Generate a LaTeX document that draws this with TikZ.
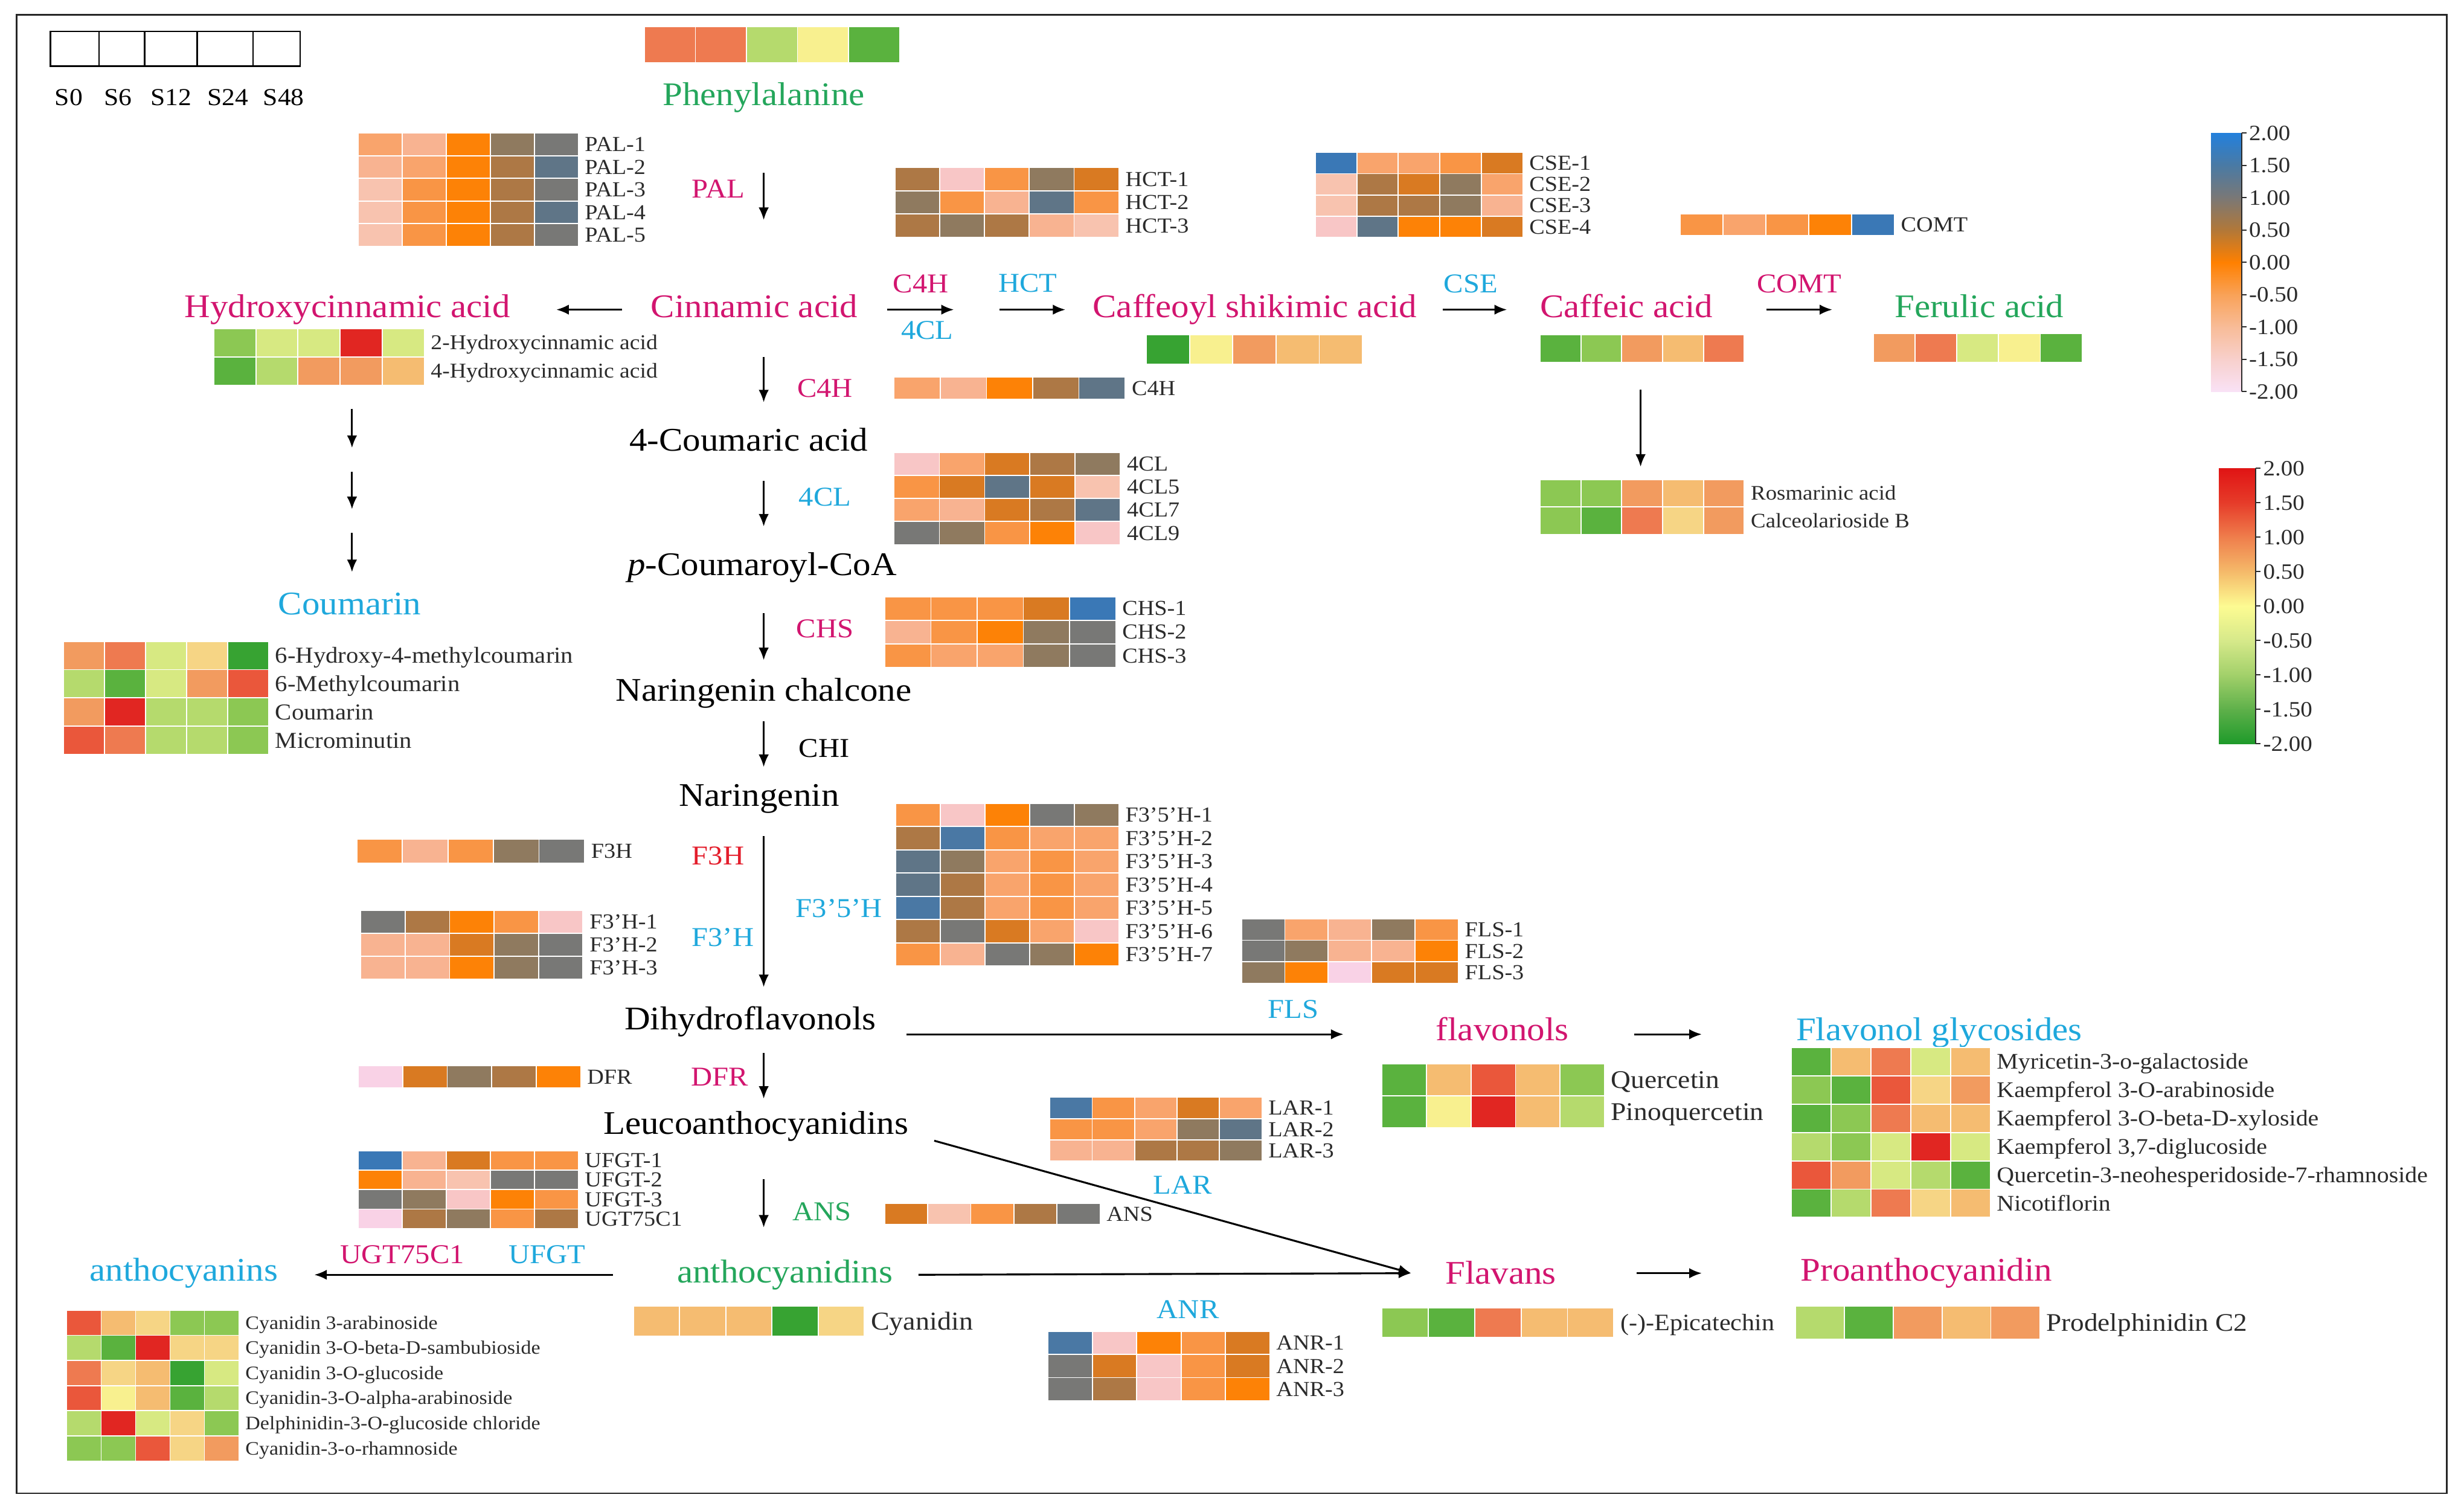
\documentclass[tikz,border=0pt]{standalone}
\usepackage{fontspec}
\setmainfont{Liberation Serif}[FakeStretch=1.08]
\usetikzlibrary{arrows.meta}

\definecolor{pathmag}{HTML}{D2156F}
\definecolor{pathcyan}{HTML}{1FA8DC}
\definecolor{pathgreen}{HTML}{24A65B}
\definecolor{pathred}{HTML}{E31D2B}
\definecolor{genetext}{HTML}{2B2B2B}
% gene expression scale
\definecolor{gBlue}{HTML}{3A78B6}
\definecolor{gSteel}{HTML}{4A78A4}
\definecolor{gSlate}{HTML}{5F7587}
\definecolor{gGray}{HTML}{787876}
\definecolor{gTaupe}{HTML}{8F7A5F}
\definecolor{gBrown}{HTML}{AD7845}
\definecolor{gRust}{HTML}{D97A22}
\definecolor{gOrange}{HTML}{FD8206}
\definecolor{gMid}{HTML}{F99545}
\definecolor{gLight}{HTML}{F9A46C}
\definecolor{gSalmon}{HTML}{F8B391}
\definecolor{gPeach}{HTML}{F8C3AF}
\definecolor{gPink}{HTML}{F8C6C6}
\definecolor{gLilac}{HTML}{F9D2E6}
% metabolite scale
\definecolor{mDeep}{HTML}{37A332}
\definecolor{mGreen}{HTML}{5AB23E}
\definecolor{mLeaf}{HTML}{8CC853}
\definecolor{mLime}{HTML}{B5DA6D}
\definecolor{mPale}{HTML}{D7E982}
\definecolor{mYellow}{HTML}{F8F08F}
\definecolor{mCream}{HTML}{F6D585}
\definecolor{mSand}{HTML}{F5BC71}
\definecolor{mApricot}{HTML}{F29B5F}
\definecolor{mCoral}{HTML}{EE7A50}
\definecolor{mTomato}{HTML}{EA573B}
\definecolor{mRed}{HTML}{E12622}
% colour bars
\definecolor{cbB0}{HTML}{2380DC}
\definecolor{cbB1}{HTML}{4A7AA4}
\definecolor{cbB2}{HTML}{7A7876}
\definecolor{cbB3}{HTML}{B27838}
\definecolor{cbB4}{HTML}{FF8000}
\definecolor{cbB5}{HTML}{F9A258}
\definecolor{cbB6}{HTML}{F8BC98}
\definecolor{cbB7}{HTML}{F8D0CC}
\definecolor{cbB8}{HTML}{F9E2F6}
\definecolor{cbR0}{HTML}{E01414}
\definecolor{cbR1}{HTML}{E63C2A}
\definecolor{cbR2}{HTML}{EF7E4C}
\definecolor{cbR3}{HTML}{F5BA6A}
\definecolor{cbR4}{HTML}{FDFB92}
\definecolor{cbR5}{HTML}{D6E98A}
\definecolor{cbR6}{HTML}{A2D06A}
\definecolor{cbR7}{HTML}{5EB04A}
\definecolor{cbR8}{HTML}{1E9A2A}

\tikzset{
  txt/.style={inner sep=0pt, text depth=0pt},
  met/.style={txt, text height=13.86pt, font=\fontsize{21}{25}\selectfont},
  enz/.style={txt, text height=11.42pt, font=\fontsize{17.3}{20}\selectfont},
  gene/.style={txt, anchor=west, text=genetext, text height=8.98pt,
    font=\fontsize{13.6}{16}\selectfont},
  cmp/.style={txt, anchor=west, text=genetext, text height={0.66*#1pt},
    font=\fontsize{#1}{#1}\selectfont},
  leg/.style={txt, text height=10.23pt, font=\fontsize{15.5}{18}\selectfont},
  tick/.style={txt, anchor=west, text=genetext, text height=9.17pt,
    font=\fontsize{13.9}{16}\selectfont},
  mag/.style={text=pathmag}, cya/.style={text=pathcyan},
  grn/.style={text=pathgreen}, rd/.style={text=pathred},
  arr/.style={line width=1.2pt, -{Latex[length=8pt,width=6.5pt]}},
}

\newcounter{hmlab}
\newcommand{\hmstart}[5][gene]{%
  \tikzset{hmlabel/.style={#1}}%
  \gdef\hmx{#2}\gdef\hmy{#3}\gdef\hmw{#4}\gdef\hmh{#5}}
\newcommand{\hmcells}[1]{%
  \foreach \col [count=\i from 0] in {#1}{%
    \filldraw[fill=\col, draw=white, line width=0.7pt]
      ({\hmx+\i*\hmw},\hmy) rectangle ++(\hmw,\hmh);}%
  \pgfmathsetmacro\hmnext{\hmy+\hmh}\global\let\hmy\hmnext}
\newcommand{\hmrow}[2]{%
  \stepcounter{hmlab}%
  \node[hmlabel] (lab\arabic{hmlab}) at ({\hmx+5*\hmw+4},{\hmy+0.5*\hmh}) {#2};%
  \hmcells{#1}}

\begin{document}
\begin{tikzpicture}[x=1pt,y=-1pt]
\useasboundingbox (0,0) rectangle (1568,960);
\draw[line width=1pt, black!85] (10.5,9.5) rectangle (1557,950);

% sample legend
\draw[line width=1pt] (32,20) rectangle (191,42);
\foreach \xx in {63,92,125.5,161} \draw[line width=1pt] (\xx,20) -- (\xx,42);
\node[leg] (s0) at (43.75,62) {S0};
\node[leg] (s6) at (75,62) {S6};
\node[leg] (s12) at (109,62) {S12};
\node[leg] (s24) at (145,62) {S24};
\node[leg] (s48) at (180.5,62) {S48};

% metabolites
\node[met, grn] (phe) at (486,60) {Phenylalanine};
\node[met, mag] (hyd) at (221,195) {Hydroxycinnamic acid};
\node[met, mag] (cin) at (480,195) {Cinnamic acid};
\node[met, mag] (caf) at (798.5,195) {Caffeoyl shikimic acid};
\node[met, mag] (cfa) at (1035,195) {Caffeic acid};
\node[met, grn] (fer) at (1259.5,195) {Ferulic acid};
\node[met, cya] (coum) at (222.5,384) {Coumarin};
\node[met] (cou) at (476.5,280) {4-Coumaric acid};
\node[met] (pcoa) at (485,359) {\textit{p}-Coumaroyl-CoA};
\node[met] (chal) at (486,439) {Naringenin chalcone};
\node[met] (nar) at (483,506) {Naringenin};
\node[met] (dhf) at (477.5,648) {Dihydroflavonols};
\node[met] (leu) at (481,714.5) {Leucoanthocyanidins};
\node[met, grn] (acy) at (499.5,809) {anthocyanidins};
\node[met, cya] (ant) at (117,808) {anthocyanins};
\node[met, mag] (fol) at (956,655) {flavonols};
\node[met, cya] (fgly) at (1234,655) {Flavonol glycosides};
\node[met, mag] (flv) at (955,810) {Flavans};
\node[met, mag] (pro) at (1226,808) {Proanthocyanidin};

% enzymes
\node[enz, mag] (ePAL) at (457,120) {PAL};
\node[enz, mag] (eC4Ha) at (586,180.6) {C4H};
\node[enz, cya] (e4CLa) at (590,210) {4CL};
\node[enz, cya] (eHCT) at (654,180) {HCT};
\node[enz, cya] (eCSE) at (936,180.6) {CSE};
\node[enz, mag] (eCOMT) at (1145,180.6) {COMT};
\node[enz, mag] (eC4H) at (525,247) {C4H};
\node[enz, cya] (e4CL) at (525,316) {4CL};
\node[enz, mag] (eCHS) at (525,400) {CHS};
\node[enz] (eCHI) at (524.5,476) {CHI};
\node[enz, rd] (eF3H) at (457,544.5) {F3H};
\node[enz, cya] (eF3pH) at (460,596.5) {F3’H};
\node[enz, cya] (eF35H) at (534,578) {F3’5’H};
\node[enz, cya] (eFLS) at (823,642) {FLS};
\node[enz, mag] (eDFR) at (458,685) {DFR};
\node[enz, grn] (eANS) at (523,770.6) {ANS};
\node[enz, cya] (eLAR) at (752.5,754) {LAR};
\node[enz, cya] (eANR) at (756,833) {ANR};
\node[enz, mag] (eUGT) at (256,798) {UGT75C1};
\node[enz, cya] (eUFGT) at (348,798) {UFGT};

% arrow ends
\coordinate (palA) at (486,110);   \coordinate (palB) at (486,140);
\coordinate (hydA) at (396,197);   \coordinate (hydB) at (354,197);
\coordinate (c4hA) at (564.5,197); \coordinate (c4hB) at (607,197);
\coordinate (hctA) at (636,197);   \coordinate (hctB) at (678,197);
\coordinate (cseA) at (918,197);   \coordinate (cseB) at (959,197);
\coordinate (omtA) at (1124,197);  \coordinate (omtB) at (1166,197);
\coordinate (hy1A) at (224,260);   \coordinate (hy1B) at (224,285);
\coordinate (hy2A) at (224,300);   \coordinate (hy2B) at (224,324);
\coordinate (hy3A) at (224,339);   \coordinate (hy3B) at (224,364);
\coordinate (couA) at (486,227);   \coordinate (couB) at (486,256);
\coordinate (pcoA) at (486,306);   \coordinate (pcoB) at (486,335);
\coordinate (chsA) at (486,390);   \coordinate (chsB) at (486,420);
\coordinate (chiA) at (486,459);   \coordinate (chiB) at (486,488);
\coordinate (dhfA) at (486,532);   \coordinate (dhfB) at (486,628);
\coordinate (rosA) at (1044,248);  \coordinate (rosB) at (1044,297);
\coordinate (dfrA) at (486,670);   \coordinate (dfrB) at (486,699);
\coordinate (ansA) at (486,750);   \coordinate (ansB) at (486,781);
\coordinate (flsA) at (577,658);   \coordinate (flsB) at (855,658);
\coordinate (glyA) at (1040,658);  \coordinate (glyB) at (1083,658);
\coordinate (antA) at (390,811);   \coordinate (antB) at (200,811);
\coordinate (anrA) at (584.5,811); \coordinate (flvIn) at (898,810);
\coordinate (larA) at (594.5,725.7);
\coordinate (proA) at (1041.5,810); \coordinate (proB) at (1083,810);

\foreach \a/\b in {palA/palB, hydA/hydB, c4hA/c4hB, hctA/hctB, cseA/cseB,
  omtA/omtB, hy1A/hy1B, hy2A/hy2B, hy3A/hy3B, couA/couB, pcoA/pcoB,
  chsA/chsB, chiA/chiB, dhfA/dhfB, rosA/rosB, dfrA/dfrB, ansA/ansB,
  flsA/flsB, glyA/glyB, antA/antB, anrA/flvIn, larA/flvIn, proA/proB}
  \draw[arr] (\a) -- (\b);

% heatmaps
\hmstart{410}{17}{32.5}{23}
\hmcells{mCoral,mCoral,mLime,mYellow,mGreen}

\hmstart{228}{84.7}{28}{14.4}
\hmrow{gLight,gSalmon,gOrange,gTaupe,gGray}{PAL-1}
\hmrow{gSalmon,gLight,gOrange,gBrown,gSlate}{PAL-2}
\hmrow{gPeach,gMid,gOrange,gBrown,gGray}{PAL-3}
\hmrow{gPeach,gMid,gOrange,gBrown,gSlate}{PAL-4}
\hmrow{gPeach,gMid,gOrange,gBrown,gGray}{PAL-5}

\hmstart{569.5}{106.5}{28.5}{14.8}
\hmrow{gBrown,gPink,gMid,gTaupe,gRust}{HCT-1}
\hmrow{gTaupe,gMid,gSalmon,gSlate,gMid}{HCT-2}
\hmrow{gBrown,gTaupe,gBrown,gSalmon,gPeach}{HCT-3}

\hmstart{837}{97}{26.4}{13.5}
\hmrow{gBlue,gLight,gLight,gMid,gRust}{CSE-1}
\hmrow{gPeach,gBrown,gRust,gTaupe,gLight}{CSE-2}
\hmrow{gPeach,gBrown,gBrown,gTaupe,gSalmon}{CSE-3}
\hmrow{gPink,gSlate,gOrange,gOrange,gRust}{CSE-4}

\hmstart{1069}{136}{27.3}{14}
\hmrow{gMid,gLight,gMid,gOrange,gBlue}{COMT}

\hmstart[cmp=13.4]{136}{209}{26.8}{18}
\hmrow{mLeaf,mPale,mPale,mRed,mPale}{2-Hydroxycinnamic acid}
\hmrow{mGreen,mLime,mApricot,mApricot,mSand}{4-Hydroxycinnamic acid}

\hmstart{729.5}{213}{27.5}{18.6}
\hmcells{mDeep,mYellow,mApricot,mSand,mSand}
\hmstart{980}{213}{26}{17.5}
\hmcells{mGreen,mLeaf,mApricot,mSand,mCoral}
\hmstart{1192}{212}{26.6}{18.6}
\hmcells{mApricot,mCoral,mPale,mYellow,mGreen}

\hmstart[cmp=13.1]{980}{305}{26}{17.5}
\hmrow{mLeaf,mLeaf,mApricot,mSand,mApricot}{Rosmarinic acid}
\hmrow{mLeaf,mGreen,mCoral,mCream,mApricot}{Calceolarioside B}

\hmstart{569}{240}{29.4}{14}
\hmrow{gLight,gSalmon,gOrange,gBrown,gSlate}{C4H}

\hmstart{569}{287.7}{28.8}{14.7}
\hmrow{gPink,gLight,gRust,gBrown,gTaupe}{4CL}
\hmrow{gMid,gRust,gSlate,gRust,gPeach}{4CL5}
\hmrow{gLight,gSalmon,gRust,gBrown,gSlate}{4CL7}
\hmrow{gGray,gTaupe,gMid,gOrange,gPink}{4CL9}

\hmstart[cmp=14.5]{40.5}{408}{26.1}{18}
\hmrow{mApricot,mCoral,mPale,mCream,mDeep}{6-Hydroxy-4-methylcoumarin}
\hmrow{mLime,mGreen,mPale,mApricot,mTomato}{6-Methylcoumarin}
\hmrow{mApricot,mRed,mLime,mLime,mLeaf}{Coumarin}
\hmrow{mTomato,mCoral,mLime,mLime,mLeaf}{Microminutin}

\hmstart{563}{379.6}{29.4}{15}
\hmrow{gMid,gMid,gMid,gRust,gBlue}{CHS-1}
\hmrow{gSalmon,gMid,gOrange,gTaupe,gGray}{CHS-2}
\hmrow{gMid,gLight,gLight,gTaupe,gGray}{CHS-3}

\hmstart{570}{511}{28.4}{14.8}
\hmrow{gMid,gPink,gOrange,gGray,gTaupe}{F3'5'H-1}
\hmrow{gBrown,gSteel,gMid,gLight,gLight}{F3'5'H-2}
\hmrow{gSlate,gTaupe,gLight,gMid,gLight}{F3'5'H-3}
\hmrow{gSlate,gBrown,gLight,gMid,gLight}{F3'5'H-4}
\hmrow{gSteel,gBrown,gLight,gMid,gLight}{F3'5'H-5}
\hmrow{gBrown,gGray,gRust,gLight,gPink}{F3'5'H-6}
\hmrow{gMid,gSalmon,gGray,gTaupe,gOrange}{F3'5'H-7}

\hmstart{227}{534}{29}{15}
\hmrow{gMid,gSalmon,gMid,gTaupe,gGray}{F3H}

\hmstart{229.5}{579}{28.3}{14.7}
\hmrow{gGray,gBrown,gOrange,gMid,gPink}{F3'H-1}
\hmrow{gSalmon,gSalmon,gRust,gTaupe,gGray}{F3'H-2}
\hmrow{gSalmon,gSalmon,gOrange,gTaupe,gGray}{F3'H-3}

\hmstart{790}{584.5}{27.6}{13.7}
\hmrow{gGray,gLight,gSalmon,gTaupe,gMid}{FLS-1}
\hmrow{gGray,gTaupe,gSalmon,gSalmon,gOrange}{FLS-2}
\hmrow{gTaupe,gOrange,gLilac,gRust,gRust}{FLS-3}

\hmstart[cmp=16.2]{879.5}{676.7}{28.3}{20.4}
\hmrow{mGreen,mSand,mTomato,mSand,mLeaf}{Quercetin}
\hmrow{mGreen,mYellow,mRed,mSand,mLime}{Pinoquercetin}

\hmstart[cmp=14.2]{1140}{666.5}{25.3}{18}
\hmrow{mGreen,mSand,mCoral,mPale,mSand}{Myricetin-3-o-galactoside}
\hmrow{mLeaf,mGreen,mTomato,mCream,mApricot}{Kaempferol 3-O-arabinoside}
\hmrow{mGreen,mLeaf,mCoral,mSand,mSand}{Kaempferol 3-O-beta-D-xyloside}
\hmrow{mLime,mLeaf,mPale,mRed,mPale}{Kaempferol 3,7-diglucoside}
\hmrow{mTomato,mApricot,mPale,mLime,mGreen}{Quercetin-3-neohesperidoside-7-rhamnoside}
\hmrow{mGreen,mLime,mCoral,mCream,mSand}{Nicotiflorin}

\hmstart{228}{678}{28.3}{14}
\hmrow{gLilac,gRust,gTaupe,gBrown,gOrange}{DFR}

\hmstart{228}{732}{28}{12.4}
\hmrow{gBlue,gSalmon,gRust,gMid,gMid}{UFGT-1}
\hmrow{gOrange,gSalmon,gPeach,gGray,gGray}{UFGT-2}
\hmrow{gGray,gTaupe,gPink,gOrange,gMid}{UFGT-3}
\hmrow{gLilac,gBrown,gTaupe,gMid,gBrown}{UGT75C1}

\hmstart[cmp=12.1]{42.5}{833.5}{21.9}{16}
\hmrow{mTomato,mSand,mCream,mLeaf,mLeaf}{Cyanidin 3-arabinoside}
\hmrow{mLime,mGreen,mRed,mCream,mCream}{Cyanidin 3-O-beta-D-sambubioside}
\hmrow{mCoral,mCream,mSand,mDeep,mPale}{Cyanidin 3-O-glucoside}
\hmrow{mTomato,mYellow,mSand,mGreen,mLime}{Cyanidin-3-O-alpha-arabinoside}
\hmrow{mLime,mRed,mPale,mCream,mLeaf}{Delphinidin-3-O-glucoside chloride}
\hmrow{mLeaf,mLeaf,mTomato,mCream,mApricot}{Cyanidin-3-o-rhamnoside}

\hmstart{563}{765.5}{27.4}{13.5}
\hmrow{gRust,gPeach,gMid,gBrown,gGray}{ANS}

\hmstart[cmp=16.4]{403}{831}{29.4}{19}
\hmrow{mSand,mSand,mSand,mDeep,mCream}{Cyanidin}

\hmstart{668}{698}{27}{13.6}
\hmrow{gSteel,gMid,gLight,gRust,gLight}{LAR-1}
\hmrow{gMid,gMid,gLight,gTaupe,gSlate}{LAR-2}
\hmrow{gSalmon,gSalmon,gBrown,gBrown,gTaupe}{LAR-3}

\hmstart{667}{847}{28.2}{14.7}
\hmrow{gSteel,gPink,gOrange,gMid,gRust}{ANR-1}
\hmrow{gGray,gRust,gPink,gMid,gRust}{ANR-2}
\hmrow{gGray,gBrown,gPink,gMid,gOrange}{ANR-3}

\hmstart[cmp=15]{879.5}{832}{29.5}{19}
\hmrow{mLeaf,mGreen,mCoral,mSand,mSand}{(-)-Epicatechin}

\hmstart[cmp=16.1]{1142.5}{831}{31.1}{21}
\hmrow{mLime,mGreen,mApricot,mSand,mApricot}{Prodelphinidin C2}

% colour bars
\foreach \ca/\cb [count=\k from 0] in {cbB0/cbB1,cbB1/cbB2,cbB2/cbB3,cbB3/cbB4,
  cbB4/cbB5,cbB5/cbB6,cbB6/cbB7,cbB7/cbB8}
  \shade[top color=\ca, bottom color=\cb] (1407,{84.7+\k*20.55}) rectangle ++(19.5,20.7);
\draw[line width=0.8pt, genetext] (1426.5,84.7) -- (1426.5,249.1);
\foreach \val [count=\k from 0] in {2.00,1.50,1.00,0.50,0.00,-0.50,-1.00,-1.50,-2.00}{
  \draw[line width=0.8pt, genetext] (1426.5,{84.7+\k*20.55}) -- ++(3,0);
  \node[tick] (bt\k) at (1431,{84.7+\k*20.55}) {\val};
}
\foreach \ca/\cb [count=\k from 0] in {cbR0/cbR1,cbR1/cbR2,cbR2/cbR3,cbR3/cbR4,
  cbR4/cbR5,cbR5/cbR6,cbR6/cbR7,cbR7/cbR8}
  \shade[top color=\ca, bottom color=\cb] (1412,{298+\k*21.9}) rectangle ++(23.5,22.05);
\draw[line width=0.8pt, genetext] (1435.5,298) -- (1435.5,473.2);
\foreach \val [count=\k from 0] in {2.00,1.50,1.00,0.50,0.00,-0.50,-1.00,-1.50,-2.00}{
  \draw[line width=0.8pt, genetext] (1435.5,{298+\k*21.9}) -- ++(3,0);
  \node[tick] (rt\k) at (1440,{298+\k*21.9}) {\val};
}
\end{tikzpicture}
\end{document}
